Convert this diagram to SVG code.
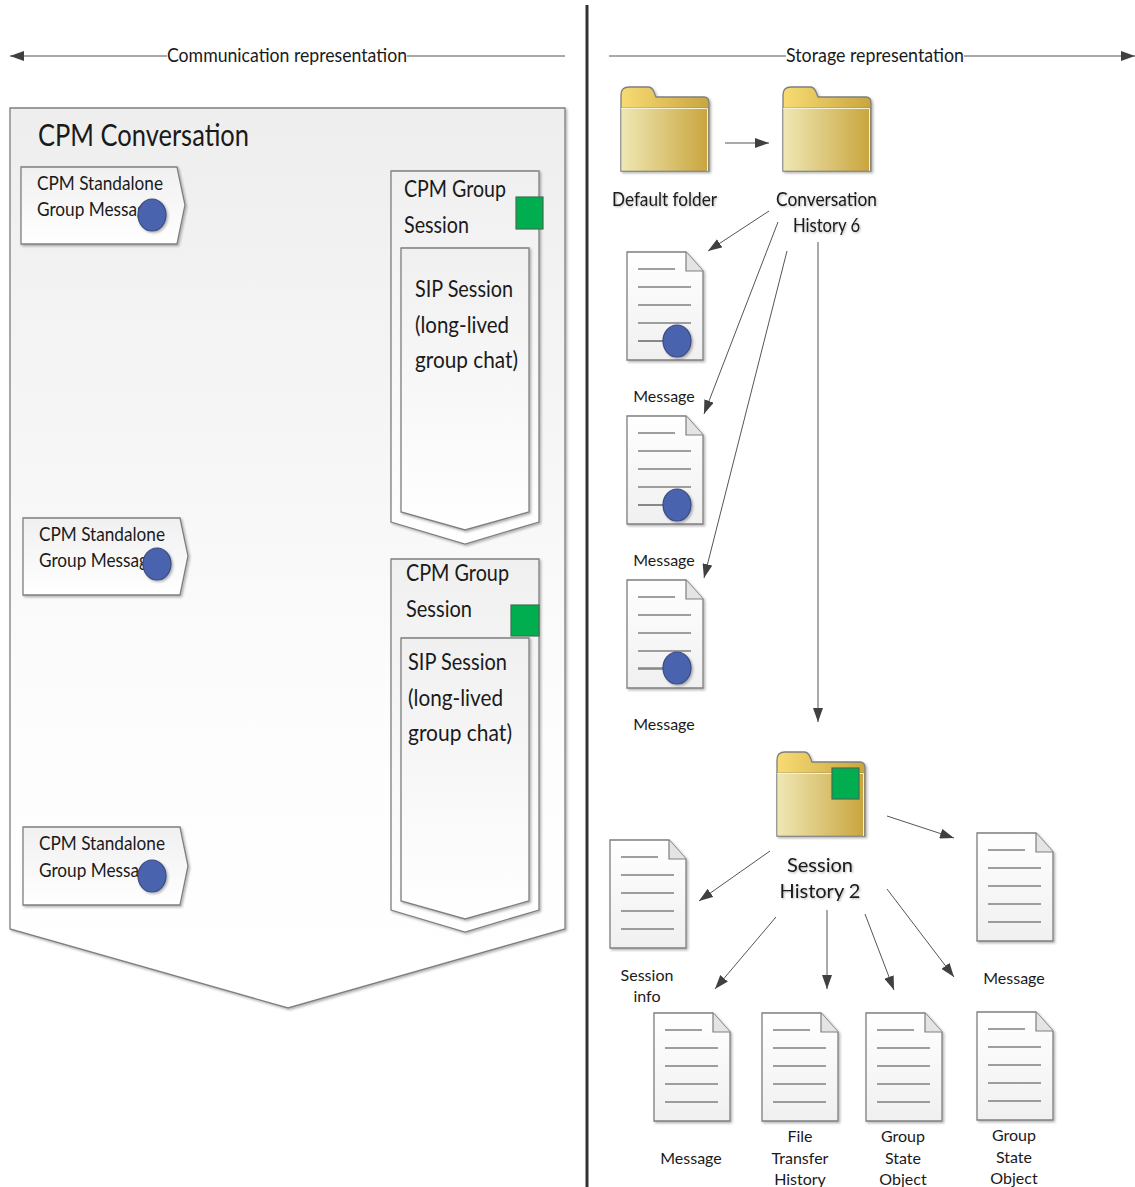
<svg xmlns="http://www.w3.org/2000/svg" width="1135" height="1187" viewBox="0 0 1135 1187">
<style>
text{font-family:Lato,"Open Sans","Liberation Sans",sans-serif;fill:#1a1a1a}
.t16{font-size:16px}.t20{font-size:20px}.t24{font-size:24px}.t30{font-size:30px}
.m{text-anchor:middle}
.soft{filter:url(#txt)}
.shape{stroke:#7f7f7f;stroke-width:1.3;filter:url(#sh)}
.conn{fill:none;stroke:#555;stroke-width:1}
.dot{fill:#4a63ae;stroke:#3a4a80;stroke-width:1.2;filter:url(#sh)}
.sq{fill:#00ae50;stroke:#3f6f52;stroke-width:1.2}
.dl{stroke:#808080;stroke-width:1.4;fill:none}
</style>
<defs>
<filter id="sh" x="-20%" y="-20%" width="150%" height="150%"><feDropShadow dx="1.5" dy="1.5" stdDeviation="1.2" flood-color="#000" flood-opacity=".3"/></filter>
<filter id="txt" x="-10%" y="-20%" width="125%" height="150%"><feDropShadow dx="1" dy="1" stdDeviation=".8" flood-color="#000" flood-opacity=".3"/></filter>
<linearGradient id="gv" x1="0" y1="0" x2="0" y2="1"><stop offset="0" stop-color="#eeeeee"/><stop offset=".7" stop-color="#fdfdfd"/><stop offset="1" stop-color="#ffffff"/></linearGradient>
<linearGradient id="gs" x1="0" y1="0" x2="0" y2="1"><stop offset="0" stop-color="#f0f0f0"/><stop offset="1" stop-color="#ffffff"/></linearGradient>
<linearGradient id="gw" x1="0" y1="0" x2="0" y2="1"><stop offset="0" stop-color="#ffffff"/><stop offset="1" stop-color="#f0f0f0"/></linearGradient>
<linearGradient id="fb" x1="0" y1="0" x2="1" y2="0"><stop offset="0" stop-color="#efe8b4"/><stop offset="1" stop-color="#c9a53e"/></linearGradient>
<linearGradient id="ft" x1="0" y1="0" x2="1" y2="0"><stop offset="0" stop-color="#f8db74"/><stop offset="1" stop-color="#c9a53e"/></linearGradient>
<marker id="ah" viewBox="0 0 14 10" refX="14" refY="5" markerWidth="14" markerHeight="10" markerUnits="userSpaceOnUse" orient="auto-start-reverse"><path d="M0 0L14 5L0 10z" fill="#404040"/></marker>
<g id="folder">
<path class="shape" d="M0 21V8Q0 0 8 0H27Q31 0 33 5L35 10H83Q88 10 88 16V84H0z" fill="url(#ft)"/>
<rect x="0" y="21" width="87" height="63" fill="url(#fb)" stroke="#7f7f7f" stroke-width=".6"/>
<path d="M0 21.500H86.500V84" fill="none" stroke="#f5f2dc" stroke-width="1"/>
</g>
<g id="doc">
<path class="shape" d="M0 0H59L76 19V108H0z" fill="url(#gw)"/>
<path d="M59 0V19H76" fill="#e4e4e4" stroke="#7f7f7f" stroke-width="1.2"/>
<path class="dl" d="M11 17H48M11 35H64M11 53H64M11 71H64M11 89H64"/>
</g>
</defs>
<g id="connectors">
<path d="M587 5V1187" stroke="#333" stroke-width="3" fill="none"/>
<path class="conn" d="M167 56H10" marker-end="url(#ah)"/>
<path class="conn" d="M407 56H565"/>
<path class="conn" d="M609 56H786"/>
<path class="conn" d="M964 56H1135" marker-end="url(#ah)"/>
<path class="conn" d="M725 143H769" marker-end="url(#ah)"/>
<path class="conn" d="M769 211L708 251" marker-end="url(#ah)"/>
<path class="conn" d="M778 222L704 414" marker-end="url(#ah)"/>
<path class="conn" d="M787 251L704 578" marker-end="url(#ah)"/>
<path class="conn" d="M818 242V722" marker-end="url(#ah)"/>
<path class="conn" d="M887 816L954 838" marker-end="url(#ah)"/>
<path class="conn" d="M770 851L699 901" marker-end="url(#ah)"/>
<path class="conn" d="M776 917L715 989" marker-end="url(#ah)"/>
<path class="conn" d="M827 910V989" marker-end="url(#ah)"/>
<path class="conn" d="M865 914L894 990" marker-end="url(#ah)"/>
<path class="conn" d="M887 889L954 977" marker-end="url(#ah)"/>
</g>
<g id="header-left"><text class="t20" x="167" y="62" textLength="240" lengthAdjust="spacingAndGlyphs">Communication representation</text></g>
<g id="header-right"><text class="t20" x="786" y="62" textLength="178" lengthAdjust="spacingAndGlyphs">Storage representation</text></g>
<g id="conversation">
<path class="shape" d="M10 108H565V929L288 1008L10 929z" fill="url(#gv)"/>
<text class="t30" x="38" y="146" textLength="211" lengthAdjust="spacingAndGlyphs">CPM Conversation</text>
</g>
<g id="standalone-1">
<path class="shape" d="M21 167H177L185 205L177 244H21z" fill="url(#gs)"/>
<text class="t20" x="37" y="190" textLength="126" lengthAdjust="spacingAndGlyphs">CPM Standalone</text>
<text class="t20" x="37" y="216" textLength="118" lengthAdjust="spacingAndGlyphs">Group Message</text>
<ellipse class="dot" cx="152" cy="215" rx="14" ry="16"/>
</g>
<g id="standalone-2">
<path class="shape" d="M23 518H180L188 556L180 595H23z" fill="url(#gs)"/>
<text class="t20" x="39" y="541" textLength="126" lengthAdjust="spacingAndGlyphs">CPM Standalone</text>
<text class="t20" x="39" y="567" textLength="118" lengthAdjust="spacingAndGlyphs">Group Message</text>
<ellipse class="dot" cx="157" cy="564" rx="14" ry="16"/>
</g>
<g id="standalone-3">
<path class="shape" d="M23 827H180L188 866L180 905H23z" fill="url(#gs)"/>
<text class="t20" x="39" y="850" textLength="126" lengthAdjust="spacingAndGlyphs">CPM Standalone</text>
<text class="t20" x="39" y="877" textLength="118" lengthAdjust="spacingAndGlyphs">Group Message</text>
<ellipse class="dot" cx="152" cy="876" rx="14" ry="16"/>
</g>
<g id="group-session-1">
<path class="shape" d="M391 171H539V522L465 544L391 522z" fill="url(#gs)"/>
<text class="t24" x="404" y="197" textLength="102" lengthAdjust="spacingAndGlyphs">CPM Group</text>
<text class="t24" x="404" y="233" textLength="65" lengthAdjust="spacingAndGlyphs">Session</text>
<rect class="sq" x="516" y="197" width="27" height="32"/>
<path class="shape" d="M401 248H529V512L465 530L401 512z" fill="url(#gs)"/>
<text class="t24" x="415" y="297" textLength="98" lengthAdjust="spacingAndGlyphs">SIP Session</text>
<text class="t24" x="415" y="333" textLength="94" lengthAdjust="spacingAndGlyphs">(long-lived</text>
<text class="t24" x="415" y="368" textLength="103" lengthAdjust="spacingAndGlyphs">group chat)</text>
</g>
<g id="group-session-2">
<path class="shape" d="M391 559H539V910L465 932L391 910z" fill="url(#gs)"/>
<text class="t24" x="406" y="581" textLength="103" lengthAdjust="spacingAndGlyphs">CPM Group</text>
<text class="t24" x="406" y="617" textLength="66" lengthAdjust="spacingAndGlyphs">Session</text>
<rect class="sq" x="511" y="605" width="28" height="31"/>
<path class="shape" d="M401 638H529V901L465 919L401 901z" fill="url(#gs)"/>
<text class="t24" x="408" y="670" textLength="99" lengthAdjust="spacingAndGlyphs">SIP Session</text>
<text class="t24" x="408" y="706" textLength="95" lengthAdjust="spacingAndGlyphs">(long-lived</text>
<text class="t24" x="408" y="741" textLength="104" lengthAdjust="spacingAndGlyphs">group chat)</text>
</g>
<g id="default-folder">
<use href="#folder" x="621" y="87"/>
<text class="t20 soft" x="612" y="206" textLength="105" lengthAdjust="spacingAndGlyphs">Default folder</text>
</g>
<g id="conversation-history">
<use href="#folder" x="783" y="87"/>
<text class="t20 soft" x="776" y="206" textLength="101" lengthAdjust="spacingAndGlyphs">Conversation</text>
<text class="t20 soft" x="793" y="232" textLength="67" lengthAdjust="spacingAndGlyphs">History 6</text>
</g>
<g id="message-1">
<use href="#doc" x="627" y="252"/>
<path class="dl" d="M638 341H664"/>
<ellipse class="dot" cx="677" cy="341" rx="14" ry="16"/>
<text class="t16 m" x="664" y="402">Message</text>
</g>
<g id="message-2">
<use href="#doc" x="627" y="416"/>
<path class="dl" d="M638 505H664"/>
<ellipse class="dot" cx="677" cy="505" rx="14" ry="16"/>
<text class="t16 m" x="664" y="566">Message</text>
</g>
<g id="message-3">
<use href="#doc" x="627" y="580"/>
<path class="dl" d="M638 668H664"/>
<ellipse class="dot" cx="677" cy="668" rx="14" ry="16"/>
<text class="t16 m" x="664" y="730">Message</text>
</g>
<g id="session-history">
<use href="#folder" x="777" y="752"/>
<rect class="sq" x="832" y="768" width="27" height="31"/>
<text class="t20 soft m" x="820" y="872">Session</text>
<text class="t20 soft m" x="820" y="898">History 2</text>
</g>
<g id="session-info">
<use href="#doc" x="610" y="840"/>
<text class="t16 m" x="647" y="981">Session</text>
<text class="t16 m" x="647" y="1002">info</text>
</g>
<g id="message-4">
<use href="#doc" x="977" y="833"/>
<text class="t16 m" x="1014" y="984">Message</text>
</g>
<g id="message-5">
<use href="#doc" x="654" y="1013"/>
<text class="t16 m" x="691" y="1164">Message</text>
</g>
<g id="file-transfer">
<use href="#doc" x="762" y="1013"/>
<text class="t16 m" x="800" y="1142">File</text>
<text class="t16 m" x="800" y="1164">Transfer</text>
<text class="t16 m" x="800" y="1185">History</text>
</g>
<g id="group-state-1">
<use href="#doc" x="866" y="1013"/>
<text class="t16 m" x="903" y="1142">Group</text>
<text class="t16 m" x="903" y="1164">State</text>
<text class="t16 m" x="903" y="1185">Object</text>
</g>
<g id="group-state-2">
<use href="#doc" x="977" y="1012"/>
<text class="t16 m" x="1014" y="1141">Group</text>
<text class="t16 m" x="1014" y="1163">State</text>
<text class="t16 m" x="1014" y="1184">Object</text>
</g>
</svg>
